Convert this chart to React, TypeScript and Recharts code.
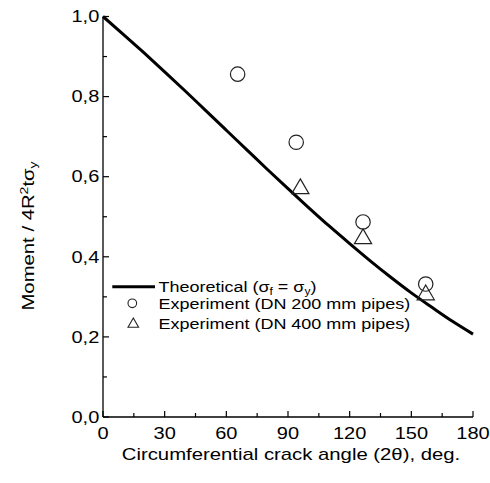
import React from 'react';
import { ComposedChart, Line, Scatter, XAxis, YAxis, Legend } from 'recharts';

// Theoretical curve
const curveAngle = [0, 10, 20, 30, 40, 50, 60, 70, 80, 90, 100, 110, 120, 130, 140, 150, 160, 170, 180];
const curveMoment = [1.0, 0.955, 0.909, 0.862, 0.814, 0.765, 0.716, 0.667, 0.618, 0.57, 0.523, 0.477, 0.433, 0.39, 0.349, 0.31, 0.274, 0.239, 0.207];

// Experiment DN 200 mm pipes (circles)
const dn200Angle = [65.5, 94, 126.5, 157];
const dn200Moment = [0.856, 0.686, 0.487, 0.332];

// Experiment DN 400 mm pipes (triangles)
const dn400Angle = [96, 126.5, 157];
const dn400Moment = [0.57, 0.445, 0.305];

const xTicks = [0, 15, 30, 45, 60, 75, 90, 105, 120, 135, 150, 165, 180];
const yTicks = [0, 0.1, 0.2, 0.3, 0.4, 0.5, 0.6, 0.7, 0.8, 0.9, 1.0];

const zip = (xs: number[], ys: number[]) => xs.map((x, i) => ({ x, y: ys[i] }));
const curveData = zip(curveAngle, curveMoment);
const dn200Data = zip(dn200Angle, dn200Moment);
const dn400Data = zip(dn400Angle, dn400Moment);

const FONT = '"Liberation Sans", Arial, Helvetica, sans-serif';
const SX = 1.25;

const XTick = (props: any) => {
  const { x, y, payload } = props;
  const v = payload.value;
  const major = v % 30 === 0;
  return (
    <g>
      <line x1={x} x2={x} y1={y} y2={y - (major ? 6 : 4)} stroke="#000" strokeWidth={1.2} />
      {major && (
        <text
          transform={`translate(${x},${y + 21.5}) scale(${SX},1)`}
          textAnchor="middle"
          fontSize={16}
          fontFamily={FONT}
          fill="#000"
        >
          {v}
        </text>
      )}
    </g>
  );
};

const YTick = (props: any) => {
  const { x, y, payload } = props;
  const v = payload.value;
  const major = Math.round(v * 10) % 2 === 0;
  return (
    <g>
      <line x1={x} x2={x + (major ? 6 : 4)} y1={y} y2={y} stroke="#000" strokeWidth={1.2} />
      {major && (
        <text
          transform={`translate(${x - 3.7},${y + 5.7}) scale(${SX},1)`}
          textAnchor="end"
          fontSize={16}
          fontFamily={FONT}
          fill="#000"
        >
          {v.toFixed(1).replace('.', ',')}
        </text>
      )}
    </g>
  );
};

const YLabel = () => (
  <text
    transform={`translate(33.5,236) rotate(-90) scale(1.27,1)`}
    textAnchor="middle"
    fontSize={16}
    fontFamily={FONT}
    fill="#000"
  >
    Moment / 4R
    <tspan fontSize={11} dy={-6}>2</tspan>
    <tspan dy={6}>tσ</tspan>
    <tspan fontSize={11} dy={3}>y</tspan>
  </text>
);

const XLabel = () => (
  <text
    transform={`translate(291,460) scale(1.27,1)`}
    textAnchor="middle"
    fontSize={16}
    fontFamily={FONT}
    fill="#000"
  >
    Circumferential crack angle (2θ), deg.
  </text>
);

const CircleShape = (p: any) => (
  <circle cx={p.cx} cy={p.cy} r={7.2} fill="none" stroke="#222" strokeWidth={1.2} />
);

const TriangleShape = (p: any) => {
  const { cx, cy } = p;
  const hw = 8.6;
  const h = 14.8;
  const d = `M${cx},${cy - (2 * h) / 3} L${cx + hw},${cy + h / 3} L${cx - hw},${cy + h / 3} Z`;
  return <path d={d} fill="none" stroke="#222" strokeWidth={1.2} strokeLinejoin="miter" />;
};

const LegendContent = () => (
  <svg width={270} height={66} style={{ display: 'block', overflow: 'visible' }}>
    <line x1={7.3} x2={50} y1={16.7} y2={16.7} stroke="#000" strokeWidth={3} />
    <text transform={`translate(53.5,21.7) scale(1.2,1)`} fontSize={15} fontFamily={FONT} fill="#000">
      Theoretical (σ<tspan fontSize={10} dy={3}>f</tspan>
      <tspan dy={-3}> = σ</tspan>
      <tspan fontSize={10} dy={3}>y</tspan>
      <tspan dy={-3}>)</tspan>
    </text>
    <circle cx={27.3} cy={33.3} r={4.3} fill="none" stroke="#222" strokeWidth={1.1} />
    <text transform={`translate(53.5,39.3) scale(1.2,1)`} fontSize={15} fontFamily={FONT} fill="#000">
      Experiment (DN 200 mm pipes)
    </text>
    <path d="M28.3,48 L33.6,57.3 L23,57.3 Z" fill="none" stroke="#222" strokeWidth={1.1} />
    <text transform={`translate(53.5,59) scale(1.2,1)`} fontSize={15} fontFamily={FONT} fill="#000">
      Experiment (DN 400 mm pipes)
    </text>
  </svg>
);

export default function App() {
  return (
    <div style={{ position: 'absolute', left: 0, top: 0, background: '#fff' }}>
      <ComposedChart
        width={490}
        height={483}
        margin={{ top: 16.5, right: 17, left: 0, bottom: 0 }}
      >
        <XAxis
          dataKey="x"
          type="number"
          domain={[0, 180]}
          ticks={xTicks}
          interval={0}
          height={66}
          tickSize={0}
          tickMargin={0}
          tickLine={false}
          tick={<XTick />}
          axisLine={{ stroke: '#000', strokeWidth: 1.3 }}
          label={<XLabel />}
        />
        <YAxis
          dataKey="y"
          type="number"
          domain={[0, 1]}
          ticks={yTicks}
          interval={0}
          width={103}
          tickSize={0}
          tickMargin={0}
          tickLine={false}
          tick={<YTick />}
          axisLine={{ stroke: '#000', strokeWidth: 1.3 }}
          label={<YLabel />}
        />
        <Line
          data={curveData}
          dataKey="y"
          type="monotone"
          stroke="#000"
          strokeWidth={3}
          dot={false}
          activeDot={false}
          isAnimationActive={false}
          name="Theoretical"
        />
        <Scatter
          data={dn200Data}
          dataKey="y"
          shape={<CircleShape />}
          isAnimationActive={false}
          name="DN 200"
        />
        <Scatter
          data={dn400Data}
          dataKey="y"
          shape={<TriangleShape />}
          isAnimationActive={false}
          name="DN 400"
        />
        <Legend
          layout="horizontal"
          align="center"
          verticalAlign="middle"
          content={<LegendContent />}
          wrapperStyle={{ left: 105, top: 270, width: 270, height: 66 }}
        />
      </ComposedChart>
    </div>
  );
}
